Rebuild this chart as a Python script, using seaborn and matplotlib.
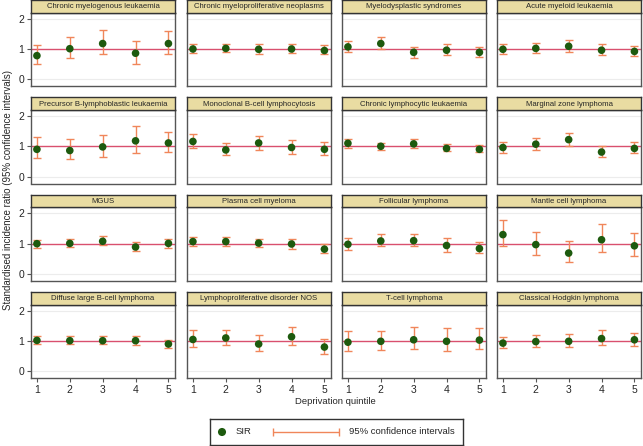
import numpy as np
import pandas as pd
import matplotlib
matplotlib.use('Agg')
import matplotlib.pyplot as plt
import seaborn as sns

quintiles = [1, 2, 3, 4, 5]

cancer_types = [
    'Chronic myelogenous leukaemia', 'Chronic myeloproliferative neoplasms',
    'Myelodysplastic syndromes', 'Acute myeloid leukaemia',
    'Precursor B-lymphoblastic leukaemia', 'Monoclonal B-cell lymphocytosis',
    'Chronic lymphocytic leukaemia', 'Marginal zone lymphoma',
    'MGUS', 'Plasma cell myeloma', 'Follicular lymphoma', 'Mantle cell lymphoma',
    'Diffuse large B-cell lymphoma', 'Lymphoproliferative disorder NOS',
    'T-cell lymphoma', 'Classical Hodgkin lymphoma',
]

sir = [
    [0.78, 1.01, 1.18, 0.86, 1.18],
    [1.00, 1.02, 0.99, 1.00, 0.95],
    [1.07, 1.18, 0.89, 0.96, 0.89],
    [0.99, 1.02, 1.09, 0.96, 0.92],
    [0.90, 0.86, 0.98, 1.18, 1.11],
    [1.16, 0.88, 1.11, 0.96, 0.90],
    [1.10, 1.00, 1.08, 0.93, 0.90],
    [0.96, 1.07, 1.22, 0.81, 0.93],
    [1.00, 1.01, 1.08, 0.89, 1.01],
    [1.07, 1.07, 1.02, 0.99, 0.82],
    [0.98, 1.09, 1.10, 0.94, 0.84],
    [1.30, 0.97, 0.69, 1.13, 0.93],
    [1.02, 1.01, 1.01, 1.01, 0.90],
    [1.05, 1.10, 0.90, 1.14, 0.80],
    [0.96, 0.99, 1.04, 0.99, 1.03],
    [0.93, 0.98, 0.99, 1.08, 1.04],
]

ci_low = [
    [0.52, 0.71, 0.82, 0.52, 0.82],
    [0.88, 0.89, 0.85, 0.86, 0.82],
    [0.89, 1.01, 0.71, 0.79, 0.72],
    [0.82, 0.86, 0.91, 0.79, 0.76],
    [0.60, 0.57, 0.65, 0.79, 0.80],
    [0.95, 0.70, 0.88, 0.74, 0.71],
    [0.96, 0.87, 0.95, 0.84, 0.80],
    [0.79, 0.88, 1.00, 0.64, 0.77],
    [0.86, 0.88, 0.96, 0.76, 0.87],
    [0.92, 0.92, 0.89, 0.83, 0.70],
    [0.80, 0.92, 0.91, 0.73, 0.68],
    [0.91, 0.64, 0.41, 0.74, 0.60],
    [0.90, 0.90, 0.89, 0.87, 0.78],
    [0.81, 0.86, 0.66, 0.88, 0.58],
    [0.66, 0.69, 0.74, 0.66, 0.73],
    [0.76, 0.79, 0.79, 0.86, 0.85],
]

ci_high = [
    [1.13, 1.40, 1.63, 1.28, 1.61],
    [1.17, 1.17, 1.15, 1.17, 1.12],
    [1.27, 1.39, 1.07, 1.18, 1.07],
    [1.18, 1.20, 1.29, 1.17, 1.09],
    [1.31, 1.25, 1.38, 1.66, 1.47],
    [1.42, 1.10, 1.35, 1.22, 1.14],
    [1.23, 1.11, 1.23, 1.09, 1.03],
    [1.15, 1.27, 1.45, 1.02, 1.13],
    [1.12, 1.14, 1.24, 1.04, 1.14],
    [1.22, 1.22, 1.17, 1.16, 0.98],
    [1.18, 1.32, 1.33, 1.18, 1.04],
    [1.78, 1.38, 1.08, 1.66, 1.37],
    [1.16, 1.15, 1.15, 1.16, 1.03],
    [1.35, 1.36, 1.19, 1.47, 1.05],
    [1.32, 1.34, 1.45, 1.43, 1.43],
    [1.14, 1.19, 1.23, 1.35, 1.26],
]

rows = []
for i, name in enumerate(cancer_types):
    for j, q in enumerate(quintiles):
        rows.append({'cancer': name, 'quintile': q, 'sir': sir[i][j],
                     'lo': ci_low[i][j], 'hi': ci_high[i][j]})
df = pd.DataFrame(rows)

sns.set_style('white')
plt.rcParams['font.family'] = ['Liberation Sans', 'DejaVu Sans']

W, H = 643, 446
fig = plt.figure(figsize=(W / 100, H / 100), dpi=100)

col_left = [31, 187, 342, 497]
row_top = [0, 97.3, 194.7, 292]
pw, hh, ph = 144, 12.7, 73.5

green = '#1d5a0e'
orange = '#f0865a'
refline = '#d9506e'
header = '#e9dca2'

for k, name in enumerate(cancer_types):
    r, c = divmod(k, 4)
    x0 = col_left[c]
    y_plot_top = row_top[r] + hh
    ax = fig.add_axes([x0 / W, 1 - (y_plot_top + ph) / H, pw / W, ph / H])
    sub = df[df['cancer'] == name]

    ax.axhline(0, color='#ececec', lw=0.8, zorder=0)
    ax.axhline(2, color='#ececec', lw=0.8, zorder=0)
    ax.axhline(1, color=refline, lw=1.0, zorder=1)
    ax.errorbar(sub['quintile'], sub['sir'],
                yerr=[sub['sir'] - sub['lo'], sub['hi'] - sub['sir']],
                fmt='none', ecolor=orange, elinewidth=1.0, capsize=3, capthick=1.0, zorder=2)
    sns.scatterplot(data=sub, x='quintile', y='sir', ax=ax, color=green,
                    s=30, edgecolor='none', zorder=3, legend=False)

    ax.set_xlim(0.82, 5.2)
    ax.set_ylim(-0.23, 2.2)
    ax.set_xticks(quintiles)
    ax.set_yticks([0, 1, 2])
    ax.set_xlabel('')
    ax.set_ylabel('')
    for sp in ax.spines.values():
        sp.set_color('#555555')
        sp.set_linewidth(1.0)
    ax.tick_params(axis='both', length=3, width=0.8, color='#555555', labelsize=7.5, pad=2)
    ax.tick_params(axis='x', bottom=(r == 3), labelbottom=(r == 3))
    ax.tick_params(axis='y', left=(c == 0), labelleft=(c == 0))

    # strip header
    hax = fig.add_axes([x0 / W, 1 - y_plot_top / H, pw / W, hh / H])
    hax.set_facecolor(header)
    hax.set_xticks([])
    hax.set_yticks([])
    for sp in hax.spines.values():
        sp.set_color('#333333')
        sp.set_linewidth(1.0)
    hax.text(0.5, 0.45, name, ha='center', va='center', fontsize=5.6,
             transform=hax.transAxes)

fig.text(8 / W, 1 - 190 / H, 'Standardised incidence ratio (95% confidence intervals)',
         rotation=90, ha='center', va='center', fontsize=7.0)
fig.text(335 / W, 1 - 402 / H, 'Deprivation quintile', ha='center', va='center', fontsize=6.8)

# legend box drawn by hand
lx0, lx1, ly0, ly1 = 210, 463, 419, 445
lax = fig.add_axes([lx0 / W, 1 - ly1 / H, (lx1 - lx0) / W, (ly1 - ly0) / H])
lax.set_xlim(lx0, lx1)
lax.set_ylim(ly1, ly0)
lax.set_xticks([])
lax.set_yticks([])
for sp in lax.spines.values():
    sp.set_color('#333333')
    sp.set_linewidth(1.0)
ym = 432
lax.scatter([222], [ym], s=34, color=green, edgecolor='none')
lax.text(236, ym, 'SIR', va='center', ha='left', fontsize=6.8)
lax.errorbar([306], [ym], xerr=[[33], [33]], fmt='none', ecolor=orange,
             elinewidth=1.0, capsize=3, capthick=1.0)
lax.text(349, ym, '95% confidence intervals', va='center', ha='left', fontsize=6.8)

fig.savefig('out.png', dpi=100)
